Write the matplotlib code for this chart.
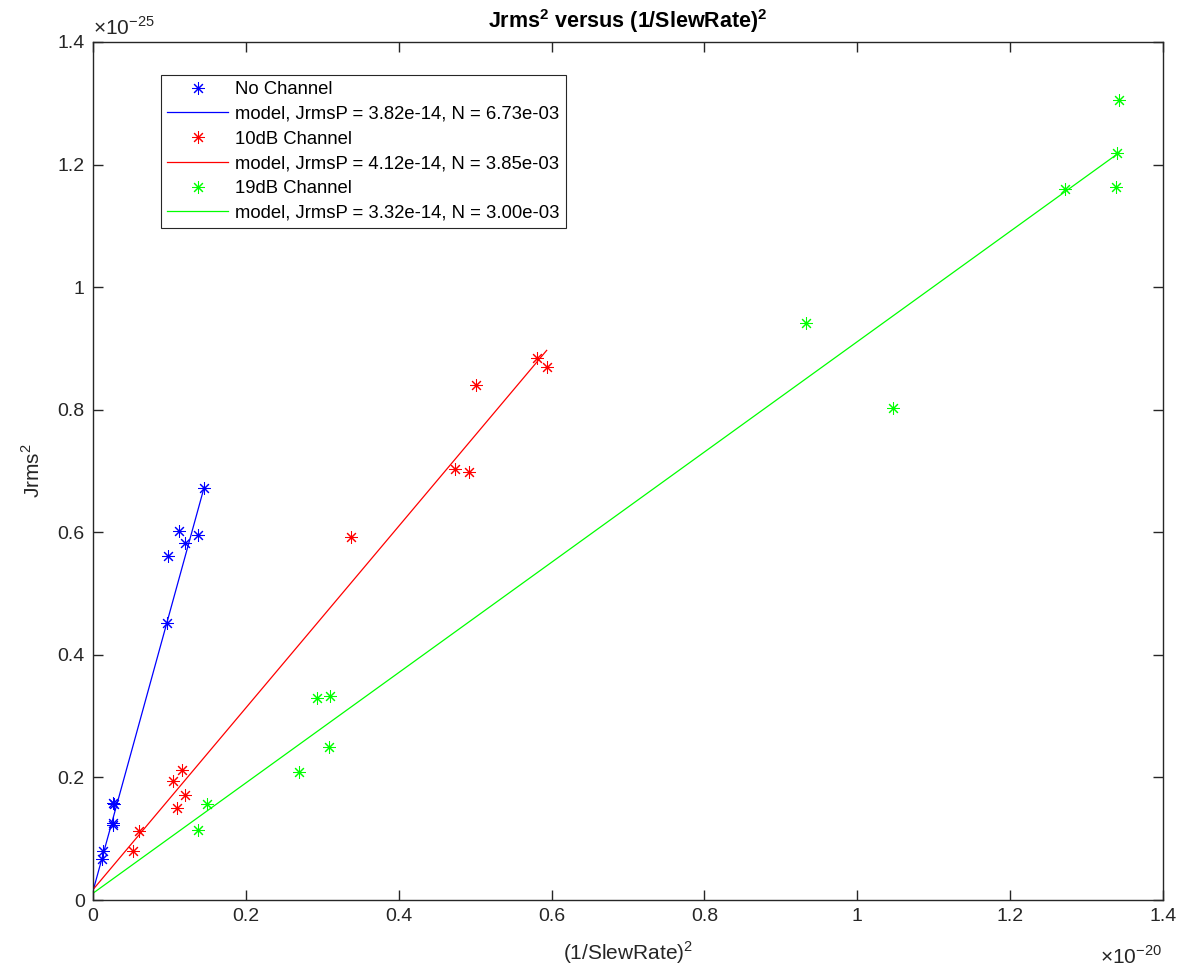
import matplotlib
matplotlib.use('Agg')
import matplotlib.pyplot as plt
import matplotlib.ticker as ticker
import numpy as np

plt.rcParams['font.family'] = ['Liberation Sans', 'DejaVu Sans']
plt.rcParams['mathtext.fontset'] = 'custom'
plt.rcParams['mathtext.rm'] = 'Liberation Sans'
plt.rcParams['mathtext.bf'] = 'Liberation Sans:bold'

# values in units of 1e-20 (x) and 1e-25 (y)
no_ch_x = [0.1457, 0.1129, 0.1204, 0.1370, 0.0981, 0.0968,
           0.0266, 0.0279, 0.0258, 0.0266, 0.0135, 0.0122]
no_ch_y = [0.672, 0.602, 0.582, 0.595, 0.561, 0.452,
           0.159, 0.157, 0.125, 0.122, 0.080, 0.067]

ch10_x = [0.5805, 0.5936, 0.5007, 0.4737, 0.4915, 0.3376,
          0.1164, 0.1051, 0.1208, 0.1103, 0.0598, 0.0527]
ch10_y = [0.885, 0.870, 0.841, 0.703, 0.699, 0.592,
          0.212, 0.194, 0.171, 0.150, 0.112, 0.080]

ch19_x = [1.3424, 1.3394, 1.3385, 1.2722, 0.9329, 1.0471,
          0.3097, 0.2927, 0.3092, 0.2695, 0.1488, 0.1374]
ch19_y = [1.305, 1.219, 1.163, 1.160, 0.941, 0.803,
          0.333, 0.330, 0.249, 0.209, 0.157, 0.115]

series_names = ['No Channel', '10dB Channel', '19dB Channel']
series_colors = ['#0000ff', '#ff0000', '#00ff00']
jrmsp = [3.82e-14, 4.12e-14, 3.32e-14]
n_vals = [6.73e-03, 3.85e-03, 3.00e-03]

fig = plt.figure(figsize=(11.94, 9.72), dpi=100)
ax = fig.add_axes([93 / 1194, 72 / 972, 1070 / 1194, 858 / 972])

star = (8, 2, 0)
for xs, ys, name, col, p, n in zip([no_ch_x, ch10_x, ch19_x], [no_ch_y, ch10_y, ch19_y],
                                   series_names, series_colors, jrmsp, n_vals):
    ax.plot(xs, ys, linestyle='none', marker=star, markersize=9, markeredgewidth=0.75,
            color=col, label=name)
    # model: Jrms^2 = JrmsP^2 + N^2 * (1/SlewRate)^2
    xl = np.array([0, max(xs)])
    yl = (p ** 2 + n ** 2 * xl * 1e-20) / 1e-25
    ax.plot(xl, yl, color=col, linewidth=0.9,
            label=f'model, JrmsP = {p:.2e}, N = {n:.2e}')

ax.set_xlim(0, 1.4)
ax.set_ylim(0, 1.4)
ticks = np.arange(0, 1.41, 0.2)
ax.set_xticks(ticks)
ax.set_yticks(ticks)
fmt = ticker.FuncFormatter(lambda v, pos: f'{v:g}')
ax.xaxis.set_major_formatter(fmt)
ax.yaxis.set_major_formatter(fmt)

axcol = '#262626'
for s in ax.spines.values():
    s.set_color(axcol)
    s.set_linewidth(1.0)
ax.tick_params(direction='in', length=7, width=1.0, color=axcol, labelcolor=axcol,
               labelsize=14, top=True, right=True, pad=6)

ax.text(0.0, 1.004, r'$\times$10$^{-25}$', transform=ax.transAxes, fontsize=15,
        color=axcol, ha='left', va='bottom')
ax.text(0.999, -0.053, r'$\times$10$^{-20}$', transform=ax.transAxes, fontsize=15,
        color=axcol, ha='right', va='top')

ax.set_title(r'Jrms$^\mathbf{2}$ versus (1/SlewRate)$^\mathbf{2}$', fontsize=15.5,
             fontweight='bold', color='black', pad=10)
ax.set_xlabel(r'(1/SlewRate)$^2$', fontsize=15, color=axcol, labelpad=10)
ax.set_ylabel(r'Jrms$^2$', fontsize=15, color=axcol, labelpad=10)

leg = ax.legend(loc='upper left', bbox_to_anchor=(0.0633, 0.962), fontsize=13.3,
                fancybox=False, framealpha=1, edgecolor='#262626',
                handlelength=3.3, handletextpad=0.35, borderpad=0.35, labelspacing=0.42,
                borderaxespad=0)
leg.get_frame().set_linewidth(0.8)

fig.savefig('out.png', dpi=100, facecolor='white')
